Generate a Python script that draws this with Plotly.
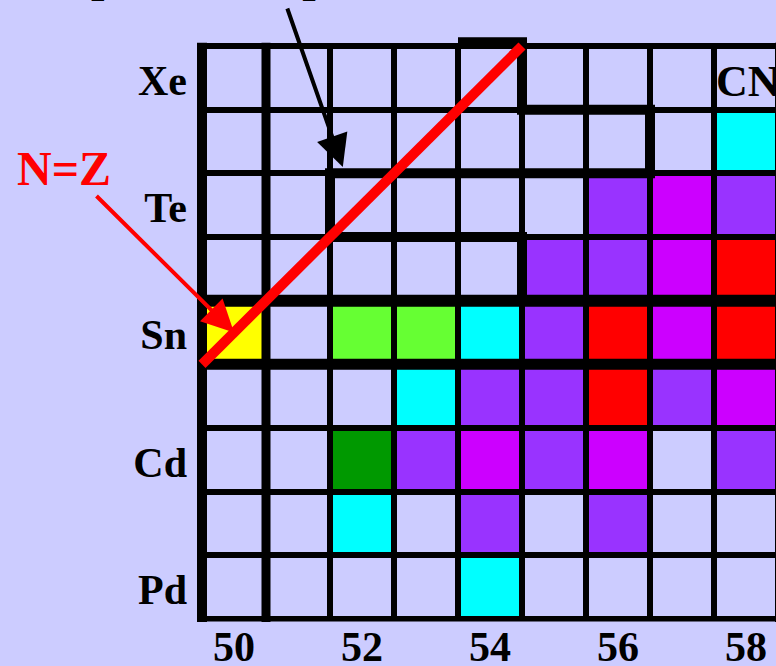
import plotly.graph_objects as go

# Chart of nuclides around 100Sn: neutron number N across, proton number Z up
N_VALUES = [50, 51, 52, 53, 54, 55, 56, 57, 58]
Z_VALUES = [46, 47, 48, 49, 50, 51, 52, 53, 54]
X_TICKS = [50, 52, 54, 56, 58]
Y_TICKS = [46, 48, 50, 52, 54]
Y_TICK_TEXT = ["Pd", "Cd", "Sn", "Te", "Xe"]

# colour class of each nuclide, one list per element (N = 50..58)
# "-" = plain cell
ROW_PD = ["-", "-", "-", "-", "C", "-", "-", "-", "-"]
ROW_AG = ["-", "-", "C", "-", "P", "-", "P", "-", "-"]
ROW_CD = ["-", "-", "D", "P", "M", "P", "M", "-", "P"]
ROW_IN = ["-", "-", "-", "C", "P", "P", "R", "P", "M"]
ROW_SN = ["Y", "-", "G", "G", "C", "P", "R", "M", "R"]
ROW_SB = ["-", "-", "-", "-", "-", "P", "P", "M", "R"]
ROW_TE = ["-", "-", "-", "-", "-", "-", "P", "M", "P"]
ROW_I = ["-", "-", "-", "-", "-", "-", "-", "-", "C"]
ROW_XE = ["-", "-", "-", "-", "-", "-", "-", "-", "-"]
ROWS = [ROW_PD, ROW_AG, ROW_CD, ROW_IN, ROW_SN, ROW_SB, ROW_TE, ROW_I, ROW_XE]

CLASS_KEYS = ["-", "Y", "G", "D", "C", "P", "M", "R"]
CLASS_COLORS = ["#CCCCFF", "#FFFF00", "#66FF33", "#009900",
                "#00FFFF", "#9933FF", "#CC00FF", "#FF0000"]

# N = Z line and the drip-line staircase (N, Z corner points)
NZ_LINE_N = [49.5, 54.5]
NZ_LINE_Z = [49.5, 54.5]
DRIP_N = [53.5, 54.5, 54.5, 56.5, 56.5, 51.5, 51.5, 54.5, 54.5]
DRIP_Z = [54.56, 54.56, 53.5, 53.5, 52.5, 52.5, 51.5, 51.5, 50.5]

BG = "#CCCCFF"
FONT = "Liberation Serif"

# plot area in pixels
W, H = 776, 666
ML, MR, MT, MB = 190, 0, 30, 44

z = [[CLASS_KEYS.index(k) for k in row] for row in ROWS]
n_cls = len(CLASS_KEYS)
colorscale = []
for i, c in enumerate(CLASS_COLORS):
    colorscale.append([i / n_cls, c])
    colorscale.append([(i + 1) / n_cls, c])

fig = go.Figure()

# black backing: the gaps between the bricks become the grid lines
fig.add_shape(type="rect", xref="x", yref="y", x0=49.5, x1=58.5, y0=45.5, y1=54.5,
              fillcolor="black", line_width=0, layer="below")

fig.add_trace(go.Heatmap(
    x=N_VALUES, y=Z_VALUES, z=z, zmin=-0.5, zmax=n_cls - 0.5,
    colorscale=colorscale, showscale=False, xgap=6, ygap=6, hoverinfo="skip",
))


def seg(xs, ys, width, color="black"):
    fig.add_trace(go.Scatter(x=xs, y=ys, mode="lines", hoverinfo="skip",
                             line=dict(color=color, width=width), showlegend=False))


# outer frame and the magic-number lines N = 50, Z = 50
seg([49.5, 49.5], [45.45, 54.55], 10)
seg([49.45, 58.6], [54.5, 54.5], 6)
seg([49.45, 58.6], [45.5, 45.5], 5)
seg([58.5, 58.5], [45.45, 54.55], 6)
seg([50.5, 50.5], [45.45, 54.55], 9)
seg([49.45, 58.6], [50.5, 50.5], 12)
seg([49.45, 58.6], [49.5, 49.5], 11)

# proton drip line
seg(DRIP_N, DRIP_Z, 10)

# N = Z
seg(NZ_LINE_N, NZ_LINE_Z, 10, "#FF0000")


def to_paper_y(py):
    return (H - MB - py) / (H - MT - MB)


def to_paper_x(px):
    return (px - ML) / (W - ML - MR)


annotations = [
    dict(text="N=Z", xref="paper", yref="paper", x=to_paper_x(64), y=to_paper_y(168),
         xanchor="center", yanchor="middle", showarrow=False,
         font=dict(family=FONT, size=48, color="#FF0000", weight="bold")),
    dict(text="", x=50, y=50, xref="x", yref="y", ax=-139, ay=-138, showarrow=True,
         arrowhead=2, arrowsize=1.6, arrowwidth=4, arrowcolor="#FF0000", standoff=0),
    dict(text="", x=51.7, y=52.6, xref="x", yref="y", ax=-56, ay=-160, showarrow=True,
         arrowhead=2, arrowsize=1.6, arrowwidth=4, arrowcolor="black", standoff=0),
    dict(text="CN", x=57.5, y=54, xref="x", yref="y", xanchor="left", yanchor="middle",
         yshift=-4, showarrow=False,
         font=dict(family=FONT, size=44, color="black", weight="bold")),
    dict(text="proton drip line", xref="paper", yref="paper", x=to_paper_x(89),
         y=to_paper_y(3), xanchor="left", yanchor="bottom", showarrow=False,
         font=dict(family=FONT, size=48, color="black", weight="bold")),
]

tick_font = dict(family=FONT, size=42, color="black", weight="bold")
fig.update_layout(
    width=W, height=H,
    margin=dict(l=ML, r=MR, t=MT, b=MB, autoexpand=False),
    paper_bgcolor=BG, plot_bgcolor=BG,
    showlegend=False,
    annotations=annotations,
    xaxis=dict(range=[49.3125, 58.46875], tickvals=X_TICKS, ticks="",
               showgrid=False, zeroline=False, showline=False, tickfont=tick_font,
               ticklabelstandoff=-4, automargin=False),
    yaxis=dict(range=[45.4533, 54.7513], tickvals=Y_TICKS, ticktext=Y_TICK_TEXT,
               ticks="", showgrid=False, zeroline=False, showline=False,
               tickfont=tick_font, ticklabelstandoff=2, ticklabelshift=2,
               automargin=False),
)

fig.write_html("out.html")
